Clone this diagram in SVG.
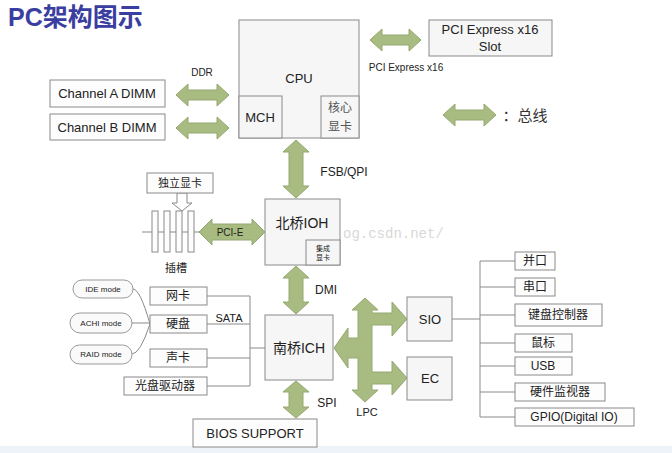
<svg xmlns="http://www.w3.org/2000/svg" width="672" height="453" viewBox="0 0 672 453">
<style>
text{font-family:"Liberation Sans","Noto Sans CJK SC",sans-serif;fill:#222;text-anchor:middle;dominant-baseline:central}
.b{fill:#f6f6f6;stroke:#8a8a8a;stroke-width:1}
.s{fill:#fdfdfd;stroke:#8a8a8a;stroke-width:1}
.a{fill:#a8bb80;stroke:#95a872;stroke-width:1}
.l{fill:none;stroke:#8a8a8a;stroke-width:1}
.o{fill:#fafafa;stroke:#9a9a9a;stroke-width:1}
</style>
<rect width="672" height="453" fill="#ffffff"/>
<rect x="0" y="446" width="672" height="7" fill="#eef3fa"/>
<text x="8" y="17" style="font-size:25px;font-weight:bold;fill:#3a3ea0;text-anchor:start">PC架构图示</text>
<text x="343" y="234" style="font-size:14px;fill:#d8d8d8;font-family:'Liberation Mono',monospace;text-anchor:start">og.csdn.net/</text>
<g id="connectors">
<polygon class="a" points="176,95 188,84 188,90 217,90 217,84 229,95 217,106 217,100 188,100 188,106"/>
<polygon class="a" points="176,128 188,117 188,123 217,123 217,117 229,128 217,139 217,133 188,133 188,139"/>
<polygon class="a" points="370,40 382,29 382,35 409,35 409,29 421,40 409,51 409,45 382,45 382,51"/>
<polygon class="a" points="443,115 455,104 455,110 484,110 484,104 496,115 484,126 484,120 455,120 455,126"/>
<polygon class="a" points="199,232 212,219 212,224 252,224 252,219 265,232 252,245 252,240 212,240 212,245"/>
<polygon class="a" points="296,140 309,152 303,152 303,186 309,186 296,198 283,186 289,186 289,152 283,152"/>
<polygon class="a" points="296,266 309,278 303,278 303,302 309,302 296,314 283,302 289,302 289,278 283,278"/>
<polygon class="a" points="296,381 309,392 303,392 303,407 309,407 296,418 283,407 289,407 289,392 283,392"/>
<polygon class="a" points="365,298 378,310 372,310 372,313 392,313 392,302 407,319 392,336 392,325 372,325 372,372 392,372 392,361 407,378 392,395 392,384 372,384 372,390 378,390 365,402 352,390 358,390 358,358 348,358 348,368 334,348 348,328 348,338 358,338 358,310 352,310"/>
<path class="l" d="M207,296H250M207,324H250M207,358H250M207,386H250M250,296V386M250,348H265"/>
<path class="l" d="M133,289Q140,289 150,324M132,323H150M132,354Q140,354 150,324"/>
<path class="l" d="M452,319H480M480,261V417M480,261H515M480,287H515M480,315H515M480,343H515M480,366H515M480,392H515M480,417H515"/>
<path class="l" d="M142,232H200"/>
<polygon points="177,193 187,193 187,203 192,203 182,211 172,203 177,203" fill="#fff" stroke="#8a8a8a"/>
</g>
<g id="cpu"><rect class="b" x="239" y="20" width="120" height="118"/><text x="299" y="78" style="font-size:13px">CPU</text></g>
<g id="mch"><rect class="b" x="239" y="96" width="43" height="42"/><text x="260" y="117" style="font-size:13px">MCH</text></g>
<g id="igpu"><rect class="b" x="321" y="96" width="38" height="42"/><text x="340" y="108" style="font-size:12px;fill:#555">核心</text><text x="340" y="127" style="font-size:12px;fill:#555">显卡</text></g>
<g id="pcieslot"><rect class="b" x="429" y="20" width="123" height="36"/><text x="490" y="29" style="font-size:13px">PCI Express x16</text><text x="490" y="46" style="font-size:13px">Slot</text></g>
<text x="406" y="67" style="font-size:10px">PCI Express x16</text>
<text x="525" y="115" style="font-size:15px;fill:#333">：总线</text>
<text x="202" y="72" style="font-size:10px">DDR</text>
<g id="dimma"><rect class="s" x="50" y="80" width="115" height="27"/><text x="107" y="93" style="font-size:13px">Channel A DIMM</text></g>
<g id="dimmb"><rect class="s" x="50" y="114" width="115" height="26"/><text x="107" y="127" style="font-size:13px">Channel B DIMM</text></g>
<text x="344" y="172" style="font-size:12px">FSB/QPI</text>
<g id="ioh"><rect class="b" x="265" y="199" width="75" height="66"/><text x="302" y="223" style="font-size:14px">北桥IOH</text></g>
<g id="igfx"><rect class="b" x="306" y="240" width="34" height="25"/><text x="323" y="248" style="font-size:7px">集成</text><text x="323" y="257" style="font-size:7px">显卡</text></g>
<g id="dgpu"><rect class="s" x="147" y="173" width="66" height="20"/><text x="180" y="183" style="font-size:11px">独立显卡</text></g>
<g id="slots" class="s">
<rect x="152" y="211" width="6" height="41"/><rect x="164" y="211" width="6" height="41"/><rect x="176" y="211" width="6" height="41"/><rect x="188" y="211" width="6" height="41"/>
</g>
<text x="176" y="268" style="font-size:11px">插槽</text>
<text x="230" y="232" style="font-size:10px">PCI-E</text>
<text x="326" y="290" style="font-size:12px">DMI</text>
<g id="ich"><rect class="b" x="265" y="315" width="68" height="65"/><text x="299" y="348" style="font-size:14px">南桥ICH</text></g>
<text x="229" y="318" style="font-size:11px">SATA</text>
<g id="nic"><rect class="s" x="150" y="287" width="57" height="18"/><text x="178" y="296" style="font-size:12px">网卡</text></g>
<g id="hdd"><rect class="s" x="150" y="315" width="57" height="18"/><text x="178" y="324" style="font-size:12px">硬盘</text></g>
<g id="snd"><rect class="s" x="150" y="349" width="57" height="18"/><text x="178" y="358" style="font-size:12px">声卡</text></g>
<g id="odd"><rect class="s" x="124" y="377" width="83" height="18"/><text x="165" y="386" style="font-size:12px">光盘驱动器</text></g>
<g id="ide"><rect class="o" x="73" y="280" width="60" height="18" rx="9"/><text x="103" y="289" style="font-size:8px">IDE mode</text></g>
<g id="achi"><rect class="o" x="70" y="313" width="62" height="20" rx="10"/><text x="101" y="323" style="font-size:8px">ACHI  mode</text></g>
<g id="raid"><rect class="o" x="70" y="345" width="62" height="19" rx="9.5"/><text x="101" y="354" style="font-size:8px">RAID mode</text></g>
<text x="327" y="403" style="font-size:12px">SPI</text>
<g id="bios"><rect class="s" x="193" y="419" width="124" height="28"/><text x="255" y="433" style="font-size:13px">BIOS  SUPPORT</text></g>
<text x="367" y="412" style="font-size:11px">LPC</text>
<g id="sio"><rect class="b" x="407" y="297" width="45" height="44"/><text x="430" y="319" style="font-size:13px">SIO</text></g>
<g id="ec"><rect class="b" x="407" y="357" width="45" height="43"/><text x="430" y="378" style="font-size:13px">EC</text></g>
<g id="par"><rect class="s" x="515" y="252" width="40" height="18"/><text x="535" y="261" style="font-size:12px">并口</text></g>
<g id="ser"><rect class="s" x="515" y="278" width="40" height="18"/><text x="535" y="287" style="font-size:12px">串口</text></g>
<g id="kbc"><rect class="s" x="515" y="304" width="87" height="22"/><text x="558" y="315" style="font-size:12px">键盘控制器</text></g>
<g id="mouse"><rect class="s" x="515" y="334" width="57" height="18"/><text x="543" y="343" style="font-size:12px">鼠标</text></g>
<g id="usb"><rect class="s" x="515" y="357" width="57" height="18"/><text x="543" y="366" style="font-size:12px">USB</text></g>
<g id="hwm"><rect class="s" x="515" y="383" width="90" height="18"/><text x="560" y="392" style="font-size:12px">硬件监视器</text></g>
<g id="gpio"><rect class="s" x="515" y="408" width="119" height="18"/><text x="574" y="417" style="font-size:12px">GPIO(Digital IO)</text></g>
</svg>
